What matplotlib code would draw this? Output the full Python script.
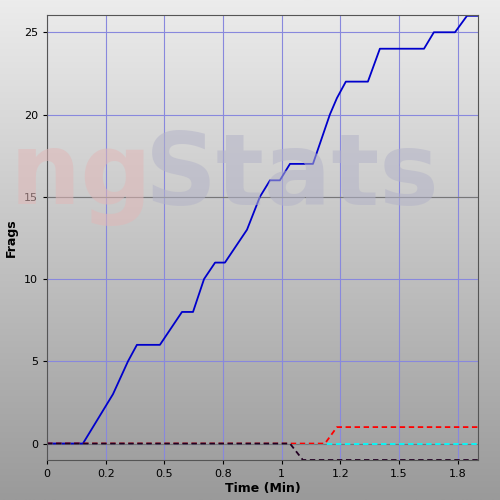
import matplotlib
matplotlib.use("Agg")
import matplotlib.pyplot as plt
import numpy as np

blue_x = [0, 0.153, 0.281, 0.345, 0.383, 0.481, 0.575, 0.622, 0.669, 0.716, 0.758, 0.852, 0.907, 0.950, 0.992, 1.035, 1.133, 1.205, 1.235, 1.273, 1.367, 1.418, 1.606, 1.648, 1.738, 1.789, 1.836]
blue_y = [0, 0, 3, 5, 6, 6, 8, 8, 10, 11, 11, 13, 15, 16, 16, 17, 17, 20, 21, 22, 22, 24, 24, 25, 25, 26, 26]
red_x = [0, 1.184, 1.235, 1.836]
red_y = [0, 0, 1, 1]
cyan_x = [0, 1.836]
cyan_y = [0, 0]
black_x = [0, 1.035, 1.09, 1.836]
black_y = [0, 0, -1, -1]
xticks = [0, 0.25, 0.5, 0.75, 1.0, 1.25, 1.5, 1.75]
xticklabels = ["0", "0.2", "0.5", "0.8", "1", "1.2", "1.5", "1.8"]
yticks = [0, 5, 10, 15, 20, 25]

fig = plt.figure(figsize=(5, 5), dpi=100)
bg = fig.add_axes([0, 0, 1, 1])
grad = np.linspace(0, 1, 256).reshape(-1, 1)
bg.imshow(grad, cmap=matplotlib.colors.LinearSegmentedColormap.from_list("g", ["#ececec", "#9a9a9a"]), aspect="auto", extent=[0, 1, 0, 1])
bg.axis("off")
fig.text(0.02, 0.645, "ng", fontsize=72, fontweight="bold", color="#e0b8b8", alpha=0.55, ha="left", va="center")
fig.text(0.29, 0.645, "Stats", fontsize=72, fontweight="bold", color="#b4b4c8", alpha=0.55, ha="left", va="center")

ax = fig.add_axes([47/500, 40/500, 431/500, 445/500])
ax.patch.set_alpha(0)
ax.set_xlim(0, 1.836)
ax.set_ylim(-1, 26.05)
ax.set_xticks(xticks)
ax.set_xticklabels(xticklabels)
ax.set_yticks(yticks)
ax.grid(True, color="#8888dd", linewidth=0.8)
ax.axhline(0, color="#777777", lw=0.8)
ax.axhline(15, color="#777777", lw=0.8)
ax.plot(blue_x, blue_y, color="#0000cc", lw=1.3)
ax.plot(cyan_x, cyan_y, color="#00ffff", lw=1.3, ls=(0, (3, 2)))
ax.plot(red_x, red_y, color="#ff0000", lw=1.3, ls=(0, (3, 2)))
ax.plot(black_x, black_y, color="#220022", lw=1.3, ls=(0, (3, 2)))
ax.tick_params(labelsize=8, length=3)
for s in ax.spines.values():
    s.set_color("#555555")
ax.set_xlabel("Time (Min)", fontsize=9, fontweight="bold", labelpad=2)
ax.set_ylabel("Frags", fontsize=9, fontweight="bold")
fig.savefig("out.png")
